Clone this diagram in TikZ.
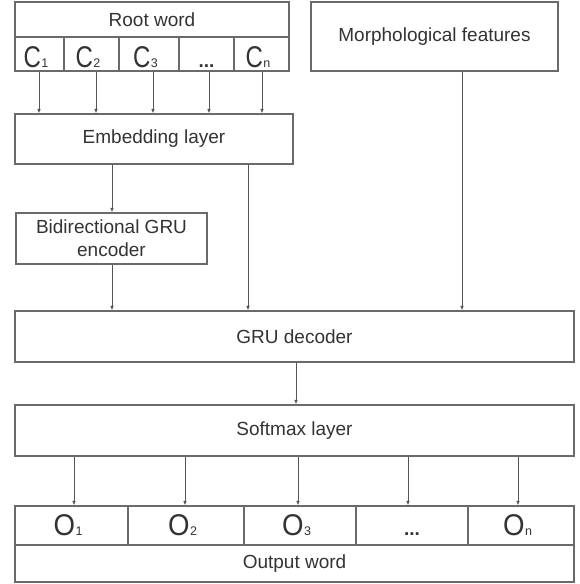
\documentclass[tikz,border=0pt]{standalone}
\usepackage{fontspec}
\setmainfont{Liberation Sans}
\usetikzlibrary{arrows.meta,calc}
\definecolor{edgegray}{HTML}{6A6A6A}
\definecolor{linegray}{HTML}{555555}
\definecolor{txtgray}{HTML}{333333}
\newcommand{\bigsym}[3]{{\fontsize{30}{30}\selectfont\scalebox{#3}[1]{#1}}\kern0.5pt{\fontsize{12.5}{13}\selectfont #2}\hspace{7pt}}
\tikzset{
  blk/.style={draw=edgegray, line width=1.1pt, rectangle, inner sep=0pt,
    text=txtgray, font=\fontsize{19}{23}\selectfont, align=center},
  cellc/.style={blk, text height=26pt, text depth=0pt},
  cello/.style={blk, text height=20pt, text depth=0pt},
  arr/.style={draw=linegray, line width=0.9pt, -{Latex[length=4.5pt,width=3.5pt]}}
}
\begin{document}
\begin{tikzpicture}[x=1pt,y=-1pt]
\useasboundingbox (0,0) rectangle (579,584);
\fill[white] (0,0) rectangle (579,584);
% Root word block
\node[blk, minimum width=274pt, minimum height=35pt] (root) at (152,19.5) {Root word};
\node[cellc, minimum width=49pt, minimum height=34pt] (c1) at (39.5,54) {\bigsym{C}{1}{0.8}};
\node[cellc, minimum width=55pt, minimum height=34pt] (c2) at (91.5,54) {\bigsym{C}{2}{0.8}};
\node[cellc, minimum width=60pt, minimum height=34pt] (c3) at (149,54) {\bigsym{C}{3}{0.8}};
\node[cellc, minimum width=55pt, minimum height=34pt] (c4) at (206.5,54) {\fontsize{19}{19}\selectfont\textbf{...}};
\node[cellc, minimum width=55pt, minimum height=34pt] (c5) at (261.5,54) {\bigsym{C}{n}{0.8}};
% Morphological features
\node[blk, minimum width=247pt, minimum height=69pt] (morph) at (434.5,36.5) {Morphological features};
% Embedding
\node[blk, minimum width=278pt, minimum height=50pt] (emb) at (154,139) {Embedding layer};
% Bidirectional
\node[blk, minimum width=191pt, minimum height=51pt] (bi) at (111.5,238.5) {Bidirectional GRU\\encoder};
% GRU decoder
\node[blk, minimum width=559pt, minimum height=51pt] (gru) at (294.5,336.5) {GRU decoder};
% Softmax
\node[blk, minimum width=559pt, minimum height=51pt] (soft) at (294.5,430.5) {Softmax layer};
% Output cells
\node[cello, minimum width=113pt, minimum height=39pt] (o1) at (71.5,525.5) {\bigsym{O}{1}{0.92}};
\node[cello, minimum width=116pt, minimum height=39pt] (o2) at (186,525.5) {\bigsym{O}{2}{0.92}};
\node[cello, minimum width=112pt, minimum height=39pt] (o3) at (300,525.5) {\bigsym{O}{3}{0.92}};
\node[cello, minimum width=112pt, minimum height=39pt] (o4) at (412,525.5) {\fontsize{19}{19}\selectfont\textbf{...}};
\node[cello, minimum width=106pt, minimum height=39pt] (o5) at (521,525.5) {\bigsym{O}{n}{0.92}};
\node[blk, minimum width=559pt, minimum height=37pt] (out) at (294.5,563.5) {Output word};
% Arrows: chars to embedding
\draw[arr] (39,0 |- c1.south) -- (39,0 |- emb.north);
\draw[arr] (96,0 |- c2.south) -- (96,0 |- emb.north);
\draw[arr] (153,0 |- c3.south) -- (153,0 |- emb.north);
\draw[arr] (209,0 |- c4.south) -- (209,0 |- emb.north);
\draw[arr] (262,0 |- c5.south) -- (262,0 |- emb.north);
% Embedding to encoder / decoder
\draw[arr] (112,0 |- emb.south) -- (112,0 |- bi.north);
\draw[arr] (248,0 |- emb.south) -- (248,0 |- gru.north);
\draw[arr] (112,0 |- bi.south) -- (112,0 |- gru.north);
\draw[arr] (462,0 |- morph.south) -- (462,0 |- gru.north);
% Decoder to softmax
\draw[arr] (296,0 |- gru.south) -- (296,0 |- soft.north);
% Softmax to outputs
\draw[arr] (74,0 |- soft.south) -- (74,0 |- o1.north);
\draw[arr] (185,0 |- soft.south) -- (185,0 |- o2.north);
\draw[arr] (298,0 |- soft.south) -- (298,0 |- o3.north);
\draw[arr] (408,0 |- soft.south) -- (408,0 |- o4.north);
\draw[arr] (518,0 |- soft.south) -- (518,0 |- o5.north);
\end{tikzpicture}
\end{document}
